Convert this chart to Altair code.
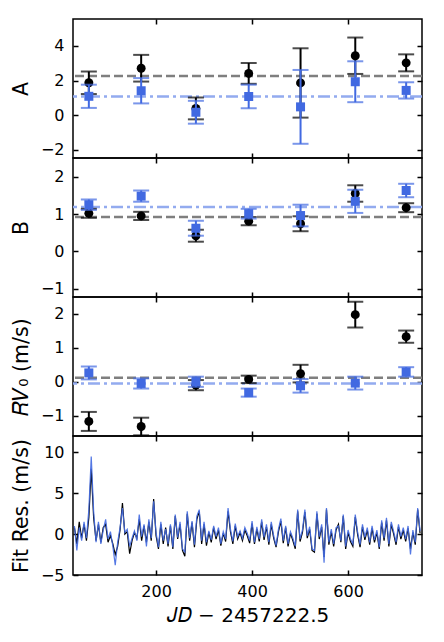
import altair as alt
import pandas as pd

# ---------------- data ----------------
epochs = [60, 169, 283, 393, 501, 615, 721]

A_black = [1.87, 2.71, 0.39, 2.41, 1.86, 3.43, 3.02]
A_black_err = [0.65, 0.77, 0.63, 0.60, 2.00, 1.05, 0.49]
A_blue = [1.09, 1.41, 0.17, 1.08, 0.48, 1.93, 1.43]
A_blue_err = [0.67, 0.73, 0.66, 0.68, 2.13, 1.18, 0.47]
A_mean_black = 2.26
A_mean_blue = 1.08

B_black = [1.02, 0.95, 0.42, 0.81, 0.74, 1.55, 1.17]
B_black_err = [0.12, 0.11, 0.16, 0.11, 0.20, 0.22, 0.12]
B_blue = [1.25, 1.48, 0.62, 1.01, 0.96, 1.34, 1.63]
B_blue_err = [0.14, 0.15, 0.20, 0.13, 0.29, 0.31, 0.18]
B_mean_black = 0.92
B_mean_blue = 1.19

RV_black = [-1.17, -1.32, -0.10, 0.07, 0.24, 1.98, 1.33]
RV_black_err = [0.28, 0.26, 0.15, 0.11, 0.26, 0.38, 0.18]
RV_blue = [0.26, -0.05, 0.00, -0.32, -0.12, -0.04, 0.29]
RV_blue_err = [0.19, 0.15, 0.15, 0.12, 0.20, 0.19, 0.14]
RV_mean_black = 0.12
RV_mean_blue = -0.05

res_days = list(range(30, 751, 5))
res_blue = [
    1.0, -2.0, 0.8, -0.8, 1.5, -0.5, 3.0, 9.5, 2.8, -1.0,
    1.5, -1.2, 0.5, 1.8, -0.6, 0.3, -1.5, -3.8, -1.0, 0.8,
    3.2, 0.2, 0.6, -1.5, -0.5, 0.4, -0.8, 2.4, -0.3, 1.2,
    -1.5, 1.8, -0.5, 4.0, 0.2, -1.6, 1.5, -0.8, 0.6, -1.2,
    1.2, -1.6, 2.4, -0.4, 1.5, -1.8, -2.2, 2.8, -0.5, 1.6,
    -1.3, 2.2, 3.0, -0.8, 1.5, -1.0, 0.4, -0.7, 1.0, -0.3,
    0.8, -1.2, 0.3, -0.6, 3.2, 0.6, -0.9, 1.3, -0.3, 0.4,
    -0.5, 0.8, 0.1, -0.8, 1.6, -1.0, 0.9, -0.6, 1.8, -0.4,
    1.2, -1.0, 1.5, -0.2, -1.4, 0.6, 1.9, -0.8, 1.0, -1.2,
    0.3, -0.5, -1.5, 3.0, -0.6, 0.5, 3.0, -0.2, 0.9, -1.8,
    -2.0, 2.8, -0.3, 1.2, -3.5, 3.2, -1.0, 0.6, -1.2, 0.8,
    1.0, -0.8, 2.4, -1.5, 0.5, -0.6, -1.2, 2.4, 0.2, -1.3,
    1.2, -0.4, 0.8, -1.0, 1.0, -0.7, 0.5, -1.6, 1.7, -0.5,
    2.0, -1.2, 1.5, 0.3, -1.0, 1.2, -0.3, 0.8, -0.6, 1.0,
    -2.5, 0.5, -1.0, 3.2, 0.4,
]
res_black = [
    0.8, -1.2, 1.5, -0.5, 1.2, -0.8, 2.0, 8.0, 2.0, -0.8,
    1.2, -1.0, 0.8, 1.2, -1.0, -0.2, -1.2, -2.5, -1.5, 0.5,
    3.8, 0.0, 0.3, -2.4, -0.8, 0.2, -0.5, 1.8, -0.8, 1.0,
    -1.0, 1.5, -0.8, 4.3, -0.2, -1.8, 1.2, -1.2, 0.8, -1.5,
    1.0, -1.8, 2.2, -0.6, 1.2, -2.0, -2.7, 2.5, -0.8, 1.4,
    -1.6, 1.8, 2.8, -1.2, 1.2, -1.4, 0.2, -1.0, 0.8, -0.6,
    0.5, -1.4, 0.1, -0.9, 2.8, 0.3, -1.2, 1.0, -0.6, 0.2,
    -0.8, 0.5, -0.2, -1.1, 1.3, -1.2, 0.6, -0.9, 1.5, -0.7,
    0.9, -1.3, 1.2, -0.5, -1.6, 0.3, 1.6, -1.1, 0.8, -1.5,
    0.1, -0.8, -1.8, 2.8, -0.9, 0.2, 2.7, -0.5, 0.6, -2.0,
    -2.2, 2.5, -0.6, 0.9, -2.8, 3.0, -1.3, 0.3, -1.5, 0.5,
    1.2, -1.0, 2.2, -1.8, 0.2, -0.9, -1.5, 2.1, -0.1, -1.6,
    0.9, -0.7, 0.5, -1.3, 0.7, -1.0, 0.2, -1.8, 1.4, -0.8,
    1.7, -1.5, 1.2, 0.0, -1.3, 0.9, -0.6, 0.5, -0.9, 0.7,
    -1.8, 0.2, -1.3, 3.0, 0.1,
]

x_ticks = [200, 400, 600]
x_domain = [27, 754]

# ---------------- style ----------------
W, H = 349, 139
BLACK = "#000000"
BLUE = "#4169E1"
GRAY_LINE = "#7f7f7f"
BLUE_LINE = "#93abef"
FONT = "DejaVu Sans"


def x_axis(show):
    common = dict(values=x_ticks, ticks=False, domain=False, grid=True,
                  gridColor="black", gridWidth=1.5, gridDash=[5, H - 10, 5],
                  gridOpacity=1)
    if show:
        return alt.Axis(labels=True, labelPadding=8, labelFontSize=16,
                        labelFont=FONT, labelColor="black",
                        title="𝐽𝐷 − 2457222.5", titleFontSize=20,
                        titleFont=FONT, titleFontWeight="normal", titleColor="black",
                        titlePadding=6, **common)
    return alt.Axis(labels=False, title=None, **common)


def y_axis(vals, title):
    return alt.Axis(values=vals, ticks=False, domain=False, grid=True,
                    gridColor="black", gridWidth=1.5, gridDash=[5, W - 10, 5],
                    gridOpacity=1, labelPadding=9, labelFontSize=16,
                    labelFont=FONT, labelColor="black",
                    title=title, titleFontSize=20.5, titleFont=FONT,
                    titleFontWeight="normal", titleColor="black", titleX=-42)


def param_panel(black, black_err, blue, blue_err, mb, mu, ydom, yvals, title):
    df = pd.DataFrame({
        "x": epochs * 2,
        "v": black + blue,
        "lo": [v - e for v, e in zip(black, black_err)] + [v - e for v, e in zip(blue, blue_err)],
        "hi": [v + e for v, e in zip(black, black_err)] + [v + e for v, e in zip(blue, blue_err)],
        "s": ["black"] * len(black) + ["blue"] * len(blue),
    })
    means = pd.DataFrame({"m": [mb, mu], "s": ["black", "blue"]})
    xs = alt.X("x:Q", scale=alt.Scale(domain=x_domain, nice=False, zero=False),
               axis=x_axis(False))
    ysc = alt.Scale(domain=ydom, nice=False, zero=False)
    yax = y_axis(yvals, title)

    base = alt.Chart(df)
    layers = []
    mline_b = alt.Chart(means[means.s == "black"]).mark_rule(
        color=GRAY_LINE, strokeWidth=2.5, strokeDash=[9, 4]
    ).encode(y=alt.Y("m:Q", scale=ysc, axis=yax))
    mline_u = alt.Chart(means[means.s == "blue"]).mark_rule(
        color=BLUE_LINE, strokeWidth=2.5, strokeDash=[12, 4, 3, 4]
    ).encode(y=alt.Y("m:Q", scale=ysc, axis=yax))
    layers += [mline_b, mline_u]
    for s, col, shape, size in [("black", BLACK, "circle", 80), ("blue", BLUE, "square", 81)]:
        sub = base.transform_filter(alt.datum.s == s)
        bar = sub.mark_rule(color=col, strokeWidth=2).encode(
            x=xs, y=alt.Y("lo:Q", scale=ysc, axis=yax), y2="hi:Q")
        cap_lo = sub.mark_tick(color=col, orient="horizontal", size=16, thickness=2).encode(
            x=xs, y=alt.Y("lo:Q", scale=ysc, axis=yax))
        cap_hi = sub.mark_tick(color=col, orient="horizontal", size=16, thickness=2).encode(
            x=xs, y=alt.Y("hi:Q", scale=ysc, axis=yax))
        pt = sub.mark_point(shape=shape, filled=True, color=col, size=size, opacity=1).encode(
            x=xs, y=alt.Y("v:Q", scale=ysc, axis=yax))
        layers += [bar, cap_lo, cap_hi, pt]
    return alt.layer(*layers).properties(width=W, height=H)


pA = param_panel(A_black, A_black_err, A_blue, A_blue_err, A_mean_black, A_mean_blue,
                 [-2.47, 5.55], [-2, 0, 2, 4], "A")
pB = param_panel(B_black, B_black_err, B_blue, B_blue_err, B_mean_black, B_mean_blue,
                 [-1.22, 2.5], [-1, 0, 1, 2], "B")
pR = param_panel(RV_black, RV_black_err, RV_blue, RV_blue_err, RV_mean_black, RV_mean_blue,
                 [-1.6, 2.5], [-1, 0, 1, 2], "𝑅𝑉₀ (m/s)")

res_df = pd.DataFrame({
    "x": res_days * 2,
    "r": res_black + res_blue,
    "s": ["black"] * len(res_days) + ["blue"] * len(res_days),
})
xs4 = alt.X("x:Q", scale=alt.Scale(domain=x_domain, nice=False, zero=False),
            axis=x_axis(True))
ysc4 = alt.Scale(domain=[-5, 12], nice=False, zero=False)
yax4 = y_axis([-5, 0, 5, 10], "Fit Res. (m/s)")
res_black_line = alt.Chart(res_df).transform_filter(alt.datum.s == "black").mark_line(
    color=BLACK, strokeWidth=1.2).encode(x=xs4, y=alt.Y("r:Q", scale=ysc4, axis=yax4))
res_blue_line = alt.Chart(res_df).transform_filter(alt.datum.s == "blue").mark_line(
    color=BLUE, strokeWidth=1.2, opacity=0.9).encode(x=xs4, y=alt.Y("r:Q", scale=ysc4, axis=yax4))
pRes = alt.layer(res_black_line, res_blue_line).properties(width=W, height=H)

chart = alt.vconcat(pA, pB, pR, pRes, spacing=0, bounds="flush").properties(
    padding={"left": 10, "top": 18, "right": 0, "bottom": 0},
    background="white",
).configure_view(
    stroke="black", strokeWidth=1.5
)

chart.save("out.html", embed_options={"renderer": "svg", "actions": False})
